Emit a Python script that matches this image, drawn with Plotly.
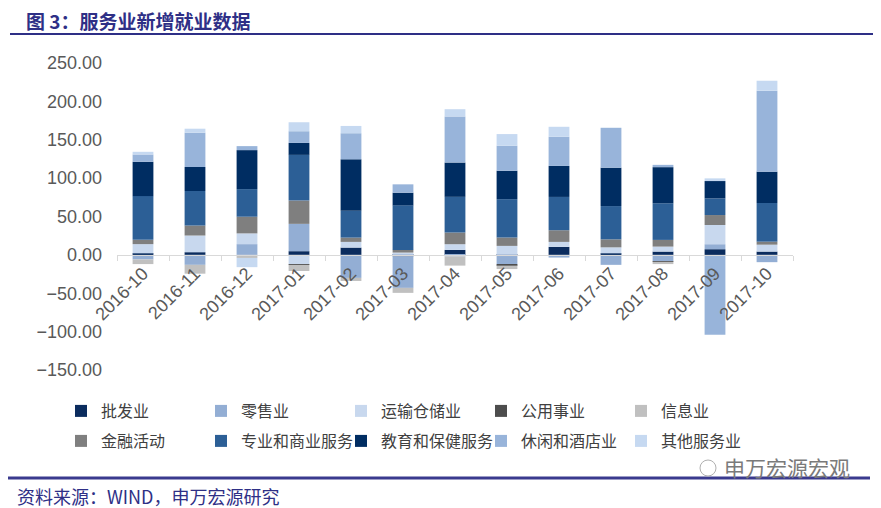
import plotly.graph_objects as go

categories = ['2016-10', '2016-11', '2016-12', '2017-01', '2017-02', '2017-03', '2017-04',
              '2017-05', '2017-06', '2017-07', '2017-08', '2017-09', '2017-10']

wholesale = [2, 3.5, 0, 4.8, 9.5, -2, 6.5, -1.5, 10.4, 2, 4.3, 7.4, 4.3]
retail = [-6, -13, 14, 35.6, -30, -41, -2, -11, -3.5, -13, -8, 6.5, -9.5]
transport = [12, 21.7, 14, -12, 7.4, 3, 7.4, 11.7, 6.5, 7.8, 6.5, 25, 9]
utilities = [0, 0, 0, -1, 0, 0, 0, -1.5, 0, 0, -1, 0, 0]
information = [-6, -11.5, -4, -8, -4, -6.5, -12, -4.5, 0, 0, -3, 0, 0]
financial = [5.6, 13, 21.7, 30.4, 5.6, 3.5, 15.2, 10.9, 15.2, 10.4, 8.7, 13, 3.9]
professional = [57, 45, 36, 59.5, 35, 58, 46.5, 50, 43.4, 43.4, 47.8, 21.7, 50.4]
education = [44.7, 31.3, 50.8, 15.6, 67, 16.5, 44.7, 37, 40.4, 50, 47, 22.6, 40.8]
leisure = [9.5, 44.7, 5.2, 15.2, 34, 10.9, 60, 32.6, 38, 52, 3, -104, 105.5]
other = [3.5, 5.2, -12, 11.7, 9.5, 0, 9.5, 15.2, 13, 0, 0, 3.5, 13]

series_names = ['批发业', '零售业', '运输仓储业', '公用事业', '信息业',
                '金融活动', '专业和商业服务', '教育和保健服务', '休闲和酒店业', '其他服务业']
series_values = [wholesale, retail, transport, utilities, information,
                 financial, professional, education, leisure, other]
series_colors = ['#0B2C5E', '#93AED4', '#C8D8EE', '#4D4D4D', '#C0C0C0',
                 '#7F7F7F', '#2C5F96', '#002D62', '#98B4DA', '#C6D9F1']

y_ticks = [-150, -100, -50, 0, 50, 100, 150, 200, 250]

# Target layout in screen pixels; the page adds an 8px body margin,
# so the figure is 8px smaller and everything is placed relative to it.
OFF = 8
L, R, T, B = 117, 793, 63, 370
W, H = 881 - OFF, 508 - OFF
PW, PH = R - L, B - T


def px(x):
    return (x - L) / PW


def py(y):
    return (B - y) / PH


FONT = 'Liberation Sans, Arial, Noto Sans CJK SC, sans-serif'
CJK = 'Noto Sans CJK SC, sans-serif'
INDIGO = '#2E2F86'

fig = go.Figure()
for i, (name, vals, col) in enumerate(zip(series_names, series_values, series_colors)):
    fig.add_trace(go.Bar(x=categories, y=vals, name=name, marker_color=col,
                         marker_line_width=0,
                         legend='legend' if i < 5 else 'legend2'))

y_min, y_max = -150, 250
zero_pos = (0 - y_min) / (y_max - y_min)

legend_common = dict(orientation='h', xanchor='left', yanchor='middle',
                     entrywidth=95, entrywidthmode='pixels', traceorder='normal',
                     font=dict(family=CJK, size=16, color='#404040'),
                     itemwidth=30, bgcolor='rgba(0,0,0,0)')

fig.update_layout(
    width=W, height=H,
    barmode='relative', bargap=0.6,
    paper_bgcolor='white', plot_bgcolor='white',
    margin=dict(l=L - OFF, r=W - (R - OFF), t=T - OFF, b=H - (B - OFF), autoexpand=False),
    font=dict(family=FONT, color='#595959'),
    showlegend=True,
    legend=dict(x=px(61), y=py(411), **legend_common),
    legend2=dict(x=px(61), y=py(441), **legend_common),
    xaxis=dict(type='category', anchor='free', position=zero_pos,
               showline=True, linecolor='#D9D9D9', linewidth=1,
               ticks='outside', tickson='boundaries', ticklen=5, tickcolor='#D9D9D9',
               tickangle=-45, tickfont=dict(size=18, color='#595959', family=FONT),
               showgrid=False, zeroline=False),
    yaxis=dict(range=[y_min, y_max], tickvals=y_ticks, tickformat='.2f',
               showgrid=False, zeroline=False, showline=False,
               ticklabelstandoff=14,
               tickfont=dict(size=18, color='#595959', family=FONT)),
)

# title
fig.add_annotation(text='<b>图 3：服务业新增就业数据</b>', xref='paper', yref='paper',
                   x=px(24), y=py(20), xanchor='left', yanchor='middle', showarrow=False,
                   height=22, font=dict(family=CJK, size=19, color=INDIGO))
# rules
fig.add_shape(type='line', xref='paper', yref='paper', x0=px(10), x1=px(881),
              y0=py(34), y1=py(34), line=dict(color=INDIGO, width=2))
fig.add_shape(type='line', xref='paper', yref='paper', x0=px(7), x1=px(870),
              y0=py(478), y1=py(478), line=dict(color='#3A3A8E', width=3))
# footer
fig.add_annotation(text='资料来源：WIND，申万宏源研究', xref='paper', yref='paper',
                   x=px(15), y=py(496), xanchor='left', yanchor='middle', showarrow=False,
                   font=dict(family=CJK, size=18, color=INDIGO))
# watermark (icon + text)
fig.add_shape(type='circle', xref='paper', yref='paper',
              x0=px(700), x1=px(716), y0=py(476), y1=py(460),
              line=dict(color='#B0B0B0', width=1))
fig.add_annotation(text='申万宏源宏观', xref='paper', yref='paper',
                   x=px(722), y=py(467), xanchor='left', yanchor='middle', showarrow=False,
                   font=dict(family=CJK, size=21, color='#7A7A7A'))

fig.write_html('out.html')
